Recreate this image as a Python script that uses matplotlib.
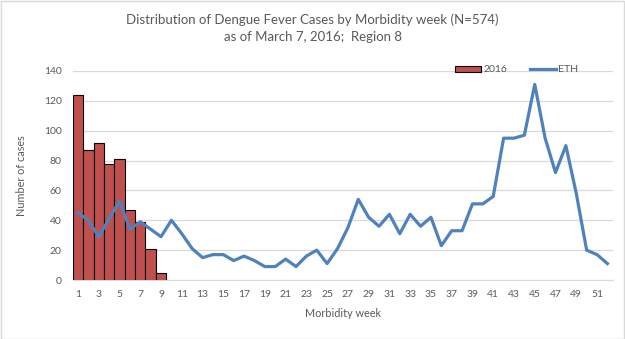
import numpy as np
import matplotlib
matplotlib.use("Agg")
import matplotlib.pyplot as plt
from matplotlib.patches import Rectangle

plt.rcParams['font.family'] = ['Lato', 'DejaVu Sans']

# weekly dengue cases, region 8
weeks = np.arange(1, 53)
weeks_2016 = np.arange(1, 10)
cases_2016 = [124, 87, 92, 78, 81, 47, 39, 21, 5]
eth = [45, 40, 29, 41, 53, 34, 39, 34, 29, 40,
       31, 21, 15, 17, 17, 13, 16, 13, 9, 9,
       14, 9, 16, 20, 11, 21, 35, 54, 42, 36,
       44, 31, 44, 36, 42, 23, 33, 33, 51, 51,
       56, 95, 95, 97, 131, 95, 72, 90, 58, 20,
       17, 11]
tick_weeks = list(range(1, 52, 2))

txt = '#595959'
grid = '#d9d9d9'

fig = plt.figure(figsize=(6.25, 3.39), dpi=100)
ax = fig.add_axes([72.8 / 625, 1 - 280 / 339, (612.6 - 72.8) / 625, (280 - 71) / 339])

bars = ax.bar(weeks_2016, cases_2016, width=1.0, color='#c0504d', edgecolor='black',
              linewidth=0.8, label='2016', zorder=2)
line, = ax.plot(weeks, eth, color='#4f81bd', linewidth=2.3, label='ETH', zorder=3)

ax.set_xlim(0.5, 52.5)
ax.set_ylim(0, 140)
ax.set_yticks(range(0, 141, 20))
ax.set_xticks(tick_weeks)
ax.set_xticklabels([str(w) for w in tick_weeks])
ax.yaxis.grid(True, color=grid, linewidth=0.9, zorder=0)
ax.set_axisbelow(True)
for s in ['top', 'right', 'left']:
    ax.spines[s].set_visible(False)
ax.spines['bottom'].set_color(grid)
ax.tick_params(axis='both', length=0, labelsize=7.5, labelcolor=txt)
ax.tick_params(axis='x', pad=7)
ax.tick_params(axis='y', pad=8)

ax.set_xlabel('Morbidity week', fontsize=7.8, color=txt, labelpad=7)
ax.set_ylabel('Number of cases', fontsize=7.8, color=txt, labelpad=12)

fig.text(0.5, 1 - 20 / 339, 'Distribution of Dengue Fever Cases by Morbidity week (N=574)',
         ha='center', va='center', fontsize=9.5, color=txt)
fig.text(0.5, 1 - 37 / 339, 'as of March 7, 2016;  Region 8',
         ha='center', va='center', fontsize=9.5, color=txt)

ax.legend(handles=[bars, line], labels=['2016', 'ETH'], loc='center',
          bbox_to_anchor=(517 / 625, 1 - 70 / 339),
          bbox_transform=fig.transFigure, ncol=2, frameon=False,
          fontsize=7.5, labelcolor=txt, handlelength=2.5, handleheight=0.6,
          columnspacing=2.2, handletextpad=0.2)

# chart border
fig.patches.append(Rectangle((0.5 / 625, 0.5 / 339), 1 - 1.5 / 625, 1 - 1.5 / 339,
                             transform=fig.transFigure, fill=False,
                             edgecolor=grid, linewidth=1))

fig.savefig('out.png', dpi=100)
